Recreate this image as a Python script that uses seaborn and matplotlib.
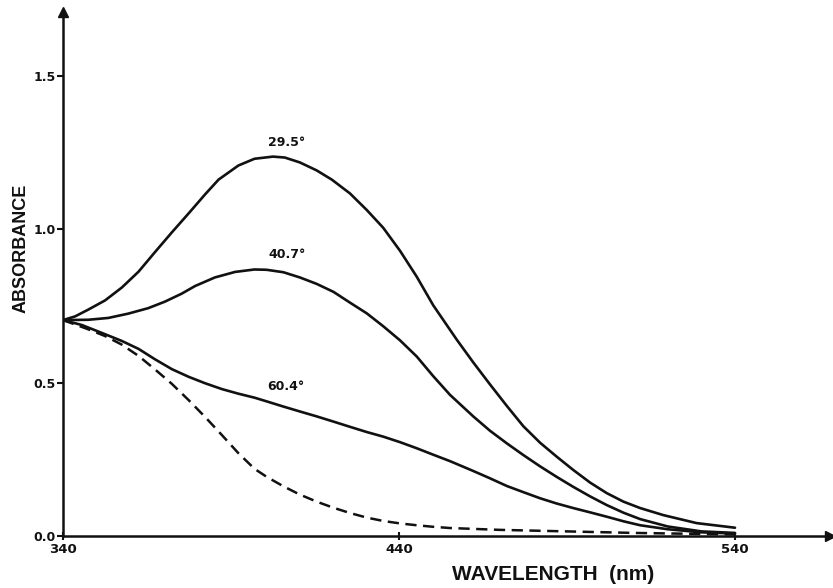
import matplotlib
matplotlib.use("Agg")
import matplotlib.pyplot as plt
import seaborn as sns

# ---- data ----
wl_295 = [340, 343.6, 347.5, 352.5, 357.5, 362.5, 367.4, 372.4, 377.4, 382.3, 386.3, 392.2,
          397.0, 402.5, 406.0, 410.5, 415.5, 420.0, 425.4, 430.4, 435.3, 440.3, 445.3, 450.2,
          457.2, 462.1, 467.1, 472.1, 477.0, 482.0, 486.9, 491.9, 496.9, 501.8, 506.8,
          511.8, 518.7, 528.6, 540.0]
abs_295 = [0.704, 0.716, 0.738, 0.768, 0.810, 0.862, 0.926, 0.990, 1.052, 1.114, 1.162, 1.208,
           1.230, 1.237, 1.234, 1.218, 1.192, 1.162, 1.117, 1.063, 1.005, 0.930, 0.845, 0.752,
           0.640, 0.566, 0.494, 0.424, 0.358, 0.304, 0.259, 0.215, 0.174, 0.140, 0.112,
           0.091, 0.068, 0.042, 0.027]

wl_407 = [340, 347.5, 353.5, 359.4, 365.4, 370.3, 375.3, 379.3, 385.2, 391.2, 397.0, 400.6,
          405.6, 410.5, 415.5, 420.5, 425.4, 430.4, 435.3, 440.3, 445.3, 450.2, 455.2, 462.1,
          467.1, 472.1, 477.0, 482.0, 486.9, 491.9, 496.9, 501.8, 506.8, 511.8, 520.0, 530.0,
          540.0]
abs_407 = [0.704, 0.705, 0.711, 0.725, 0.743, 0.764, 0.790, 0.815, 0.843, 0.861, 0.869, 0.868,
           0.860, 0.843, 0.822, 0.796, 0.761, 0.726, 0.684, 0.638, 0.585, 0.521, 0.460, 0.390,
           0.343, 0.302, 0.264, 0.227, 0.193, 0.160, 0.129, 0.101, 0.076, 0.055, 0.031, 0.015,
           0.010]

wl_604 = [340, 345.6, 352.5, 357.5, 362.5, 367.4, 372.4, 377.4, 382.3, 387.3, 392.2, 397.0,
          400.6, 405.6, 410.5, 415.5, 420.5, 425.4, 430.4, 435.3, 440.3, 445.3, 450.2, 455.2,
          462.1, 467.1, 472.1, 477.0, 482.0, 486.9, 491.9, 496.9, 501.8, 506.8, 511.8, 520.0,
          530.0, 540.0]
abs_604 = [0.704, 0.688, 0.658, 0.636, 0.610, 0.576, 0.544, 0.519, 0.498, 0.479, 0.464, 0.451,
           0.439, 0.422, 0.406, 0.390, 0.373, 0.356, 0.339, 0.324, 0.306, 0.286, 0.265, 0.244,
           0.212, 0.188, 0.163, 0.143, 0.123, 0.106, 0.091, 0.077, 0.063, 0.048, 0.035, 0.022,
           0.012, 0.008]

wl_dash = [340, 347.5, 352.5, 357.5, 362.5, 367.4, 372.4, 377.4, 382.3, 387.3, 392.2, 397.0,
           400.6, 405.6, 410.5, 415.5, 420.5, 425.4, 430.4, 435.3, 440.3, 445.3, 450.2, 455.2,
           470.0, 490.0, 510.0, 540.0]
abs_dash = [0.704, 0.674, 0.652, 0.624, 0.587, 0.543, 0.496, 0.443, 0.388, 0.329, 0.270, 0.219,
            0.193, 0.162, 0.135, 0.112, 0.092, 0.075, 0.060, 0.049, 0.041, 0.035, 0.030, 0.026,
            0.020, 0.015, 0.010, 0.005]

curve_labels = ["29.5°", "40.7°", "60.4°"]
label_x = [406.6, 406.6, 406.3]
label_y = [1.283, 0.919, 0.489]

x_ticks = [340, 440, 540]
x_ticklabels = ["340", "440", "540"]
y_ticks = [0.0, 0.5, 1.0, 1.5]
y_ticklabels = ["0.0", "0.5", "1.0", "1.5"]

# ---- plotting ----
sns.set_theme(style="ticks")
plt.rcParams["font.family"] = ["DejaVu Sans"]

W, H = 833, 588
fig = plt.figure(figsize=(W / 100, H / 100), dpi=100)
x0, x1 = 63, 830
y0, y1 = 536, 12
ax = fig.add_axes([x0 / W, (H - y0) / H, (x1 - x0) / W, (y0 - y1) / H])

ink = "#111111"
for wl, ab in [(wl_295, abs_295), (wl_407, abs_407), (wl_604, abs_604)]:
    sns.lineplot(x=wl, y=ab, ax=ax, color=ink, lw=1.9, sort=False, estimator=None)
sns.lineplot(x=wl_dash, y=abs_dash, ax=ax, color=ink, lw=1.8, sort=False, estimator=None)
ax.lines[-1].set_dashes((4.5, 2.6))
for ln in ax.lines:
    ln.set_solid_joinstyle("round")
    ln.set_solid_capstyle("round")

ax.set_xlim(340, 340 + (x1 - x0) / 3.36)
ax.set_ylim(0, (y0 - y1) / 306.7)

for txt, lx, ly in zip(curve_labels, label_x, label_y):
    ax.text(lx, ly, txt, ha="center", va="center", fontsize=9, fontweight="bold", color=ink)

sns.despine(ax=ax)
for s in ("left", "bottom"):
    ax.spines[s].set_linewidth(1.8)
    ax.spines[s].set_color(ink)

# arrow heads on axes
ax.plot([0], [1], marker="^", ms=7, color=ink, transform=ax.transAxes, clip_on=False)
ax.plot([1], [0], marker=">", ms=7, color=ink, transform=ax.transAxes, clip_on=False)

ax.set_xticks(x_ticks)
ax.set_xticklabels(x_ticklabels)
ax.set_yticks(y_ticks)
ax.set_yticklabels(y_ticklabels)
ax.tick_params(axis="x", direction="inout", length=6, width=1.5, colors=ink, pad=2,
               labelsize=9.5)
ax.tick_params(axis="y", direction="out", length=4, width=1.5, colors=ink, pad=1,
               labelsize=9)
for lab in ax.get_xticklabels() + ax.get_yticklabels():
    lab.set_fontweight("bold")

ax.set_xlabel("WAVELENGTH  (nm)", fontsize=15, fontweight="bold",
              family=["Liberation Sans", "DejaVu Sans"], color=ink)
ax.xaxis.set_label_coords((553 - x0) / (x1 - x0), (y0 - 574) / (y0 - y1))
ax.xaxis.label.set_va("center")
ax.set_ylabel("ABSORBANCE", fontsize=13, fontweight="bold",
              family=["Liberation Sans", "DejaVu Sans"], color=ink)
ax.yaxis.set_label_coords((21 - x0) / (x1 - x0), (y0 - 248) / (y0 - y1))
ax.yaxis.label.set_va("center")

fig.savefig("out.png", dpi=100, facecolor="white")
